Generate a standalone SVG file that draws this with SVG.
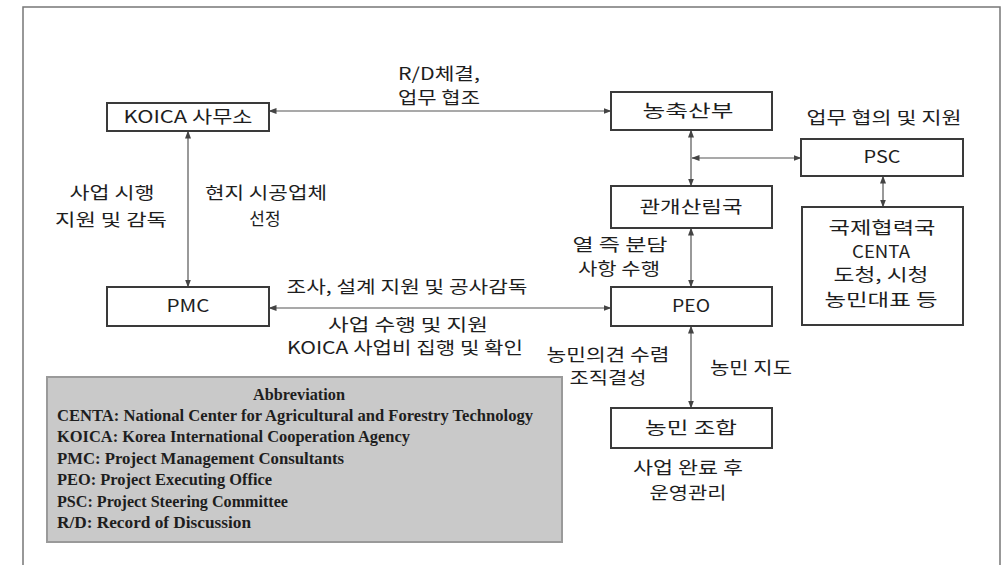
<svg xmlns="http://www.w3.org/2000/svg" width="1001" height="565" viewBox="0 0 1001 565">
<defs>
<marker id="ah" viewBox="0 0 8 6" refX="7.5" refY="3" markerWidth="8" markerHeight="6" markerUnits="userSpaceOnUse" orient="auto-start-reverse">
<path d="M0,0 L8,3 L0,6 z" fill="#444"/>
</marker>
<style>
.box{fill:#fff;stroke:#3a3a3a;stroke-width:2}
.t{font-family:"Noto Sans CJK KR","Noto Sans",sans-serif;font-size:17px;fill:#1e1e1e;text-anchor:middle}
.c{stroke:#555;stroke-width:1.2;fill:none;marker-start:url(#ah);marker-end:url(#ah)}
.ab{font-family:"Liberation Serif",serif;font-size:16px;font-weight:bold;fill:#1e1e1e}
.frame{stroke:#777;stroke-width:1.5;fill:none}
</style>
</defs>
<rect width="1001" height="565" fill="#fff"/>
<path class="frame" d="M23,565 V7 H1000 V565"/>

<g id="connectors">
<path class="c" d="M269,111 H611"/>
<path class="c" d="M188,131 V287"/>
<path class="c" d="M269,308 H611"/>
<path class="c" d="M691,130 V186"/>
<path class="c" d="M692,158 H801"/>
<path class="c" d="M883,176 V207"/>
<path class="c" d="M691,228 V287"/>
<path class="c" d="M691,326 V408"/>
</g>

<g id="koica">
<rect class="box" x="107" y="103" width="162" height="28"/>
<text class="t" x="188" y="123" textLength="129" lengthAdjust="spacingAndGlyphs">KOICA 사무소</text>
</g>
<g id="mafa">
<rect class="box" x="611" y="92" width="161" height="38"/>
<text class="t" x="688" y="117" textLength="91" lengthAdjust="spacingAndGlyphs">농축산부</text>
</g>
<g id="psc">
<rect class="box" x="801" y="139" width="162" height="37"/>
<text class="t" x="882" y="163" textLength="37" lengthAdjust="spacingAndGlyphs">PSC</text>
</g>
<g id="irrigation">
<rect class="box" x="611" y="186" width="161" height="42"/>
<text class="t" x="691" y="213" textLength="103" lengthAdjust="spacingAndGlyphs">관개산림국</text>
</g>
<g id="partners">
<rect class="box" x="802" y="207" width="161" height="118"/>
<text class="t" x="882" y="234" textLength="107" lengthAdjust="spacingAndGlyphs">국제협력국</text>
<text class="t" x="881" y="258" textLength="58" lengthAdjust="spacingAndGlyphs">CENTA</text>
<text class="t" x="881" y="281" textLength="95" lengthAdjust="spacingAndGlyphs">도청, 시청</text>
<text class="t" x="881" y="306" textLength="113" lengthAdjust="spacingAndGlyphs">농민대표 등</text>
</g>
<g id="pmc">
<rect class="box" x="107" y="287" width="162" height="39"/>
<text class="t" x="188" y="312" textLength="43" lengthAdjust="spacingAndGlyphs">PMC</text>
</g>
<g id="peo">
<rect class="box" x="611" y="287" width="161" height="39"/>
<text class="t" x="691" y="312" textLength="38" lengthAdjust="spacingAndGlyphs">PEO</text>
</g>
<g id="farmers">
<rect class="box" x="611" y="408" width="161" height="40"/>
<text class="t" x="691" y="434" textLength="92" lengthAdjust="spacingAndGlyphs">농민 조합</text>
</g>

<g id="labels">
<text class="t" x="439" y="80" textLength="82" lengthAdjust="spacingAndGlyphs">R/D체결,</text>
<text class="t" x="439" y="104" textLength="82" lengthAdjust="spacingAndGlyphs">업무 협조</text>
<text class="t" x="884" y="124" textLength="155" lengthAdjust="spacingAndGlyphs">업무 협의 및 지원</text>
<text class="t" x="112" y="199" textLength="85" lengthAdjust="spacingAndGlyphs">사업 시행</text>
<text class="t" x="111" y="226" textLength="112" lengthAdjust="spacingAndGlyphs">지원 및 감독</text>
<text class="t" x="266" y="199" textLength="122" lengthAdjust="spacingAndGlyphs">현지 시공업체</text>
<text class="t" x="265" y="225">선정</text>
<text class="t" x="620" y="251" textLength="95" lengthAdjust="spacingAndGlyphs">열 즉 분담</text>
<text class="t" x="619" y="275" textLength="82" lengthAdjust="spacingAndGlyphs">사항 수행</text>
<text class="t" x="407" y="293" textLength="241" lengthAdjust="spacingAndGlyphs">조사, 설계 지원 및 공사감독</text>
<text class="t" x="408" y="331" textLength="160" lengthAdjust="spacingAndGlyphs">사업  수행 및 지원</text>
<text class="t" x="405" y="354" textLength="236" lengthAdjust="spacingAndGlyphs">KOICA 사업비 집행 및 확인</text>
<text class="t" x="608" y="361" textLength="123" lengthAdjust="spacingAndGlyphs">농민의견 수렴</text>
<text class="t" x="608" y="384" textLength="77" lengthAdjust="spacingAndGlyphs">조직결성</text>
<text class="t" x="751" y="374" textLength="82" lengthAdjust="spacingAndGlyphs">농민 지도</text>
<text class="t" x="688" y="474" textLength="110" lengthAdjust="spacingAndGlyphs">사업 완료 후</text>
<text class="t" x="688" y="499" textLength="77" lengthAdjust="spacingAndGlyphs">운영관리</text>
</g>

<g id="abbreviation">
<rect x="47" y="377" width="515" height="165" fill="#c9c9c9" stroke="#9a9a9a" stroke-width="2"/>
<text class="ab" x="299" y="400" text-anchor="middle" textLength="92" lengthAdjust="spacingAndGlyphs">Abbreviation</text>
<text class="ab" x="57" y="421" textLength="476" lengthAdjust="spacingAndGlyphs">CENTA: National Center for Agricultural and Forestry Technology</text>
<text class="ab" x="57" y="442" textLength="353" lengthAdjust="spacingAndGlyphs">KOICA: Korea International Cooperation Agency</text>
<text class="ab" x="57" y="464" textLength="287" lengthAdjust="spacingAndGlyphs">PMC:  Project Management Consultants</text>
<text class="ab" x="57" y="485" textLength="215" lengthAdjust="spacingAndGlyphs">PEO: Project Executing  Office</text>
<text class="ab" x="57" y="507" textLength="231" lengthAdjust="spacingAndGlyphs">PSC: Project  Steering Committee</text>
<text class="ab" x="57" y="528" textLength="194" lengthAdjust="spacingAndGlyphs">R/D: Record of Discussion</text>
</g>
</svg>
